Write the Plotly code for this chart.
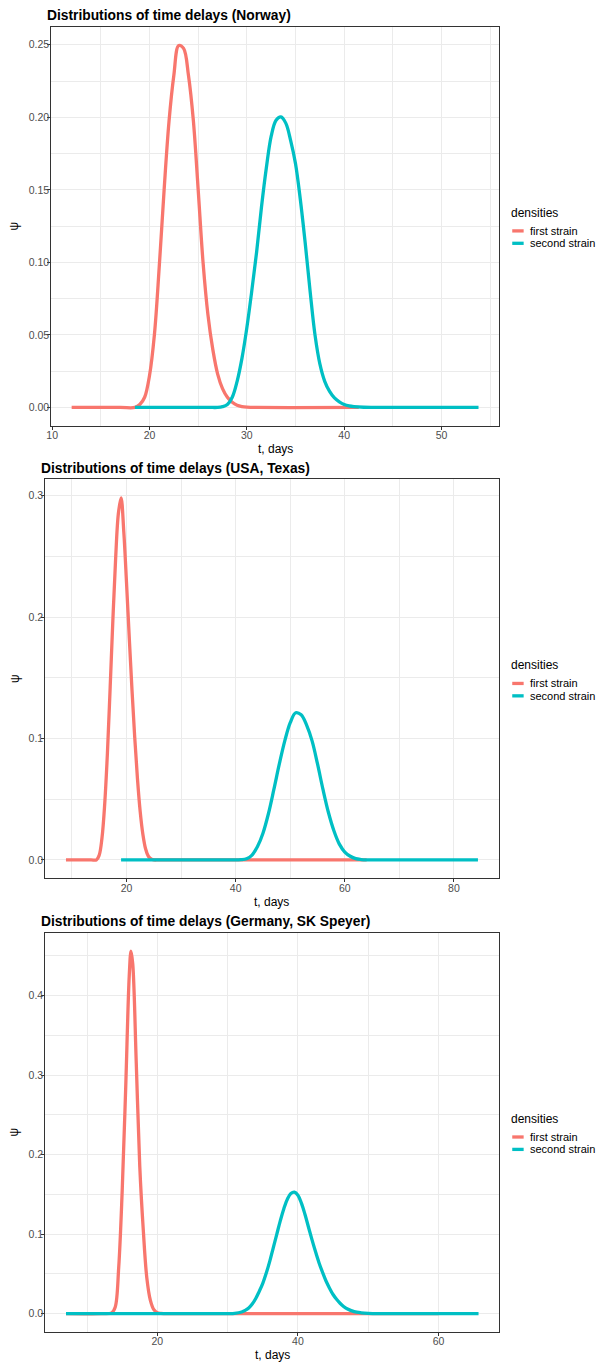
import plotly.graph_objects as go

# ---------------- data ----------------
# Norway
nor_t_first = [12, 17, 18.5, 19, 19.5, 20, 20.5, 21, 21.5, 22, 22.5, 23, 23.5, 24, 24.5, 25,
               25.5, 26, 26.5, 27, 27.5, 28, 28.5, 29, 29.5, 30, 31, 41.5]
nor_p_first = [0, 0, 0, 0.002, 0.007, 0.022, 0.05, 0.097, 0.15, 0.197, 0.229, 0.2495, 0.2475,
               0.229, 0.198, 0.15, 0.1, 0.064, 0.04, 0.023, 0.013, 0.007, 0.0035, 0.0015, 0.0006,
               0.0002, 0, 0]
nor_t_second = [18.5, 26, 27, 27.5, 28, 28.5, 29, 29.5, 30, 30.5, 31, 31.5, 32, 32.5, 33, 33.5, 34,
                34.5, 35, 35.5, 36, 36.5, 37, 37.5, 38, 38.5, 39, 39.5, 40, 40.5, 41, 42, 43, 53.8]
nor_p_second = [0, 0, 0, 0.0005, 0.002, 0.007, 0.018, 0.034, 0.055, 0.08, 0.107, 0.138, 0.165,
                0.187, 0.198, 0.2003, 0.196, 0.184, 0.168, 0.143, 0.113, 0.08, 0.05, 0.03, 0.018,
                0.011, 0.0065, 0.0038, 0.002, 0.001, 0.0005, 0.0001, 0, 0]

# USA, Texas
tx_t_first = [8.9, 13.5, 14.5, 15, 15.5, 16, 16.5, 17, 17.5, 18, 18.5, 19, 19.5, 20, 20.5, 21, 21.5,
              22, 22.5, 23, 23.5, 24, 24.5, 25, 26, 64]
tx_p_first = [0, 0, 0, 0.004, 0.018, 0.046, 0.088, 0.142, 0.198, 0.248, 0.285, 0.298, 0.27, 0.228,
              0.183, 0.14, 0.101, 0.067, 0.04, 0.021, 0.009, 0.003, 0.0008, 0, 0, 0]
tx_t_second = [19, 39, 41, 42, 43, 44, 45, 46, 47, 48, 49, 50, 51, 52, 53, 54, 55, 56, 57, 58,
               59, 60, 61, 62, 63, 64, 66, 84.4]
tx_p_second = [0, 0, 0.0002, 0.001, 0.004, 0.011, 0.022, 0.038, 0.058, 0.079, 0.098, 0.113, 0.1212,
               0.1195, 0.111, 0.098, 0.079, 0.058, 0.039, 0.024, 0.013, 0.0065, 0.003, 0.001,
               0.0003, 0, 0, 0]

# Germany, SK Speyer
sk_t_first = [7, 12, 13.5, 14, 14.5, 15, 15.5, 16, 16.25, 16.5, 17, 17.5, 18, 18.5, 19, 19.5, 20,
              20.5, 21, 23, 60]
sk_p_first = [0, 0, 0.001, 0.008, 0.058, 0.155, 0.285, 0.425, 0.456, 0.44, 0.315, 0.185, 0.105,
              0.045, 0.017, 0.005, 0.001, 0.0002, 0, 0, 0]
sk_t_second = [7, 30, 31, 32, 32.5, 33, 33.5, 34, 34.5, 35, 35.5, 36, 36.5, 37, 37.5, 38, 38.5, 39,
               39.5, 40, 40.5, 41, 41.5, 42, 42.5, 43, 43.5, 44, 44.5, 45, 45.5, 46, 46.5, 47, 48,
               49, 50, 52, 65.7]
sk_p_second = [0, 0, 0.0003, 0.002, 0.004, 0.007, 0.012, 0.019, 0.028, 0.038, 0.051, 0.066, 0.083,
               0.1, 0.117, 0.132, 0.144, 0.151, 0.1527, 0.149, 0.139, 0.125, 0.109, 0.093, 0.078,
               0.064, 0.052, 0.041, 0.032, 0.024, 0.018, 0.013, 0.009, 0.006, 0.0025, 0.001,
               0.0003, 0, 0]

titles = ["Distributions of time delays (Norway)",
          "Distributions of time delays (USA, Texas)",
          "Distributions of time delays (Germany, SK Speyer)"]
series_names = ["first strain", "second strain"]
legend_title = "densities"
x_label = "t, days"
y_label = "\u03c8"

nor_xticks = [10, 20, 30, 40, 50]
tx_xticks = [20, 40, 60, 80]
sk_xticks = [20, 40, 60]
nor_yticks = [0, 0.05, 0.10, 0.15, 0.20, 0.25]
tx_yticks = [0, 0.1, 0.2, 0.3]
sk_yticks = [0, 0.1, 0.2, 0.3, 0.4]

# ---------------- layout helpers ----------------
W, H = 601, 1362
FONT = "Liberation Sans, Arial, sans-serif"
RED, TEAL = "#F8766D", "#00BFC4"
GRID = "#EBEBEB"
BORDER = "#333333"


def fx(px):
    return px / W


def fy(py):
    return 1 - py / H


# panel boxes in pixels: left, top, right, bottom
panels = [
    dict(box=(46.7, 26.7, 498.0, 425.5), data=(nor_t_first, nor_p_first, nor_t_second, nor_p_second),
         xt=nor_xticks, xminor=5, yt=nor_yticks, yminor=0.025, yfmt=".2f"),
    dict(box=(40.7, 479.3, 497.7, 878.0), data=(tx_t_first, tx_p_first, tx_t_second, tx_p_second),
         xt=tx_xticks, xminor=10, yt=tx_yticks, yminor=0.05, yfmt=".1f"),
    dict(box=(40.7, 932.7, 498.3, 1331.7), data=(sk_t_first, sk_p_first, sk_t_second, sk_p_second),
         xt=sk_xticks, xminor=10, yt=sk_yticks, yminor=0.05, yfmt=".1f"),
]

fig = go.Figure()
annotations = []
shapes = []

for i, pnl in enumerate(panels):
    k = "" if i == 0 else str(i + 1)
    t1, p1, t2, p2 = pnl["data"]
    left, top, right, bottom = pnl["box"]

    # ggplot-like 5% expansion of the data range
    tmin = min(min(t1), min(t2))
    tmax = max(max(t1), max(t2))
    pmax = max(max(p1), max(p2))
    dx = (tmax - tmin) * 0.05
    dy = pmax * 0.05
    xr = [tmin - dx, tmax + dx]
    yr = [-dy, pmax + dy + 0.0005]

    for t, p, col, nm in ((t1, p1, RED, series_names[0]), (t2, p2, TEAL, series_names[1])):
        fig.add_trace(go.Scatter(
            x=t, y=p, mode="lines", name=nm, showlegend=False,
            line=dict(color=col, width=3.3, shape="spline", smoothing=1.0),
            xaxis="x" + k, yaxis="y" + k))

    axis_common = dict(
        showline=True, mirror=True, linecolor=BORDER, linewidth=1.1,
        ticks="outside", ticklen=3, tickwidth=1, tickcolor=BORDER,
        showgrid=True, gridcolor=GRID, gridwidth=1, zeroline=False,
        tickfont=dict(family=FONT, size=10.5, color="#4D4D4D"),
    )
    fig.update_layout(**{
        "xaxis" + k: dict(
            axis_common, domain=[fx(left), fx(right)], anchor="y" + k, range=xr,
            tickmode="array", tickvals=pnl["xt"], ticktext=[str(v) for v in pnl["xt"]],
            ticklabelstandoff=-3,
            minor=dict(dtick=pnl["xminor"], tick0=0, showgrid=True, gridcolor=GRID,
                       gridwidth=0.6, ticks=""),
        ),
        "yaxis" + k: dict(
            axis_common, domain=[fy(bottom), fy(top)], anchor="x" + k, range=yr,
            tickmode="array", tickvals=pnl["yt"],
            ticktext=[format(v, pnl["yfmt"]) for v in pnl["yt"]],
            ticklabelstandoff=-4,
            minor=dict(dtick=pnl["yminor"], tick0=0, showgrid=True, gridcolor=GRID,
                       gridwidth=0.6, ticks=""),
        ),
    })

    # panel title
    annotations.append(dict(
        text="<b>" + titles[i] + "</b>", xref="paper", yref="paper",
        x=fx(left - 6), y=fy(top - 11), xanchor="left", yanchor="middle", showarrow=False,
        font=dict(family=FONT, size=13.8, color="black")))
    # axis titles
    annotations.append(dict(
        text=x_label, xref="paper", yref="paper",
        x=fx((left + right) / 2), y=fy(bottom + 23.5), xanchor="center", yanchor="middle",
        showarrow=False, font=dict(family=FONT, size=12, color="black")))
    annotations.append(dict(
        text=y_label, xref="paper", yref="paper", textangle=-90,
        x=fx(9.5), y=fy((top + bottom) / 2), xanchor="center", yanchor="middle",
        showarrow=False, font=dict(family=FONT, size=12, color="black")))

    # legend (drawn like ggplot's guide)
    cy = (top + bottom) / 2
    annotations.append(dict(
        text=legend_title, xref="paper", yref="paper",
        x=fx(508.5), y=fy(cy - 13.5), xanchor="left", yanchor="middle", showarrow=False,
        font=dict(family=FONT, size=12, color="black")))
    for j, (nm, col) in enumerate(zip(series_names, (RED, TEAL))):
        yy = cy + 4.8 + j * 12.4
        shapes.append(dict(type="line", xref="paper", yref="paper",
                           x0=fx(511.5), x1=fx(523), y0=fy(yy), y1=fy(yy),
                           line=dict(color=col, width=3.3)))
        annotations.append(dict(
            text=nm, xref="paper", yref="paper",
            x=fx(527.5), y=fy(yy), xanchor="left", yanchor="middle", showarrow=False,
            font=dict(family=FONT, size=11, color="black")))

fig.update_layout(
    width=W, height=H, autosize=False,
    margin=dict(l=0, r=0, t=0, b=0),
    paper_bgcolor="white", plot_bgcolor="white",
    showlegend=False,
    annotations=annotations, shapes=shapes,
    font=dict(family=FONT),
)

fig.write_html(
    "out.html",
    config={"displayModeBar": False},
    post_script="document.body.style.margin='0';document.body.style.padding='0';"
                "document.body.style.overflow='hidden';"
                "document.documentElement.style.overflow='hidden';",
)
